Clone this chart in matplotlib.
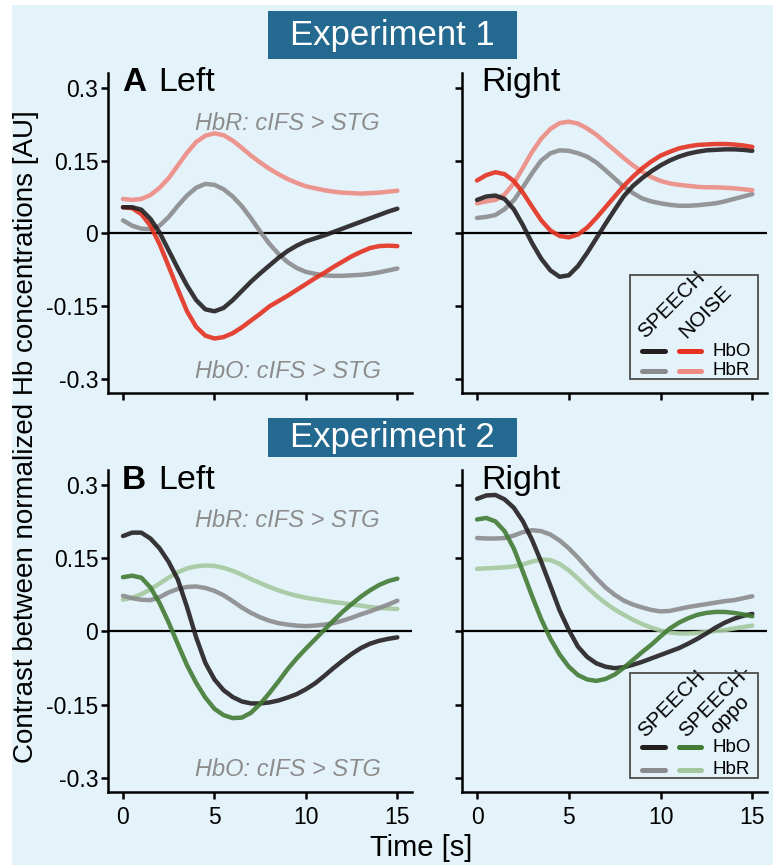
import matplotlib.pyplot as plt
from matplotlib.patches import Rectangle
from matplotlib.lines import Line2D

plt.rcParams['font.family'] = ['Liberation Sans', 'DejaVu Sans']
plt.rcParams['axes.linewidth'] = 1.8

W, H = 773, 865
BG = '#e4f2fa'
BOX = '#24698f'

# time axis [s], sampled every 0.5 s
t = [0, 0.5, 1, 1.5, 2, 2.5, 3, 3.5, 4, 4.5, 5, 5.5, 6, 6.5, 7, 7.5,
     8, 8.5, 9, 9.5, 10, 10.5, 11, 11.5, 12, 12.5, 13, 13.5, 14, 14.5, 15]

# ---- Experiment 1: SPEECH vs NOISE ----
e1_left_speech_hbo = [0.054, 0.054, 0.049, 0.030, 0.002, -0.035, -0.072, -0.107, -0.137, -0.156, -0.160,
                      -0.153, -0.137, -0.118, -0.099, -0.082, -0.066, -0.050, -0.036, -0.025, -0.016,
                      -0.010, -0.004, 0.003, 0.010, 0.017, 0.024, 0.031, 0.038, 0.045, 0.051]
e1_left_noise_hbo = [0.054, 0.052, 0.040, 0.016, -0.022, -0.068, -0.115, -0.160, -0.192, -0.210, -0.216,
                     -0.213, -0.205, -0.193, -0.179, -0.165, -0.150, -0.139, -0.128, -0.116, -0.104,
                     -0.092, -0.081, -0.069, -0.058, -0.047, -0.038, -0.030, -0.026, -0.025, -0.026]
e1_left_speech_hbr = [0.027, 0.016, 0.010, 0.009, 0.016, 0.034, 0.057, 0.078, 0.094, 0.102, 0.100,
                      0.091, 0.076, 0.056, 0.031, 0.004, -0.021, -0.042, -0.059, -0.071, -0.079,
                      -0.083, -0.086, -0.087, -0.087, -0.086, -0.085, -0.083, -0.080, -0.076, -0.072]
e1_left_noise_hbr = [0.071, 0.069, 0.071, 0.079, 0.094, 0.114, 0.140, 0.166, 0.188, 0.201, 0.206,
                     0.202, 0.191, 0.176, 0.160, 0.146, 0.133, 0.122, 0.112, 0.104, 0.097,
                     0.093, 0.089, 0.086, 0.084, 0.083, 0.082, 0.083, 0.084, 0.086, 0.088]

e1_right_speech_hbo = [0.069, 0.076, 0.078, 0.071, 0.050, 0.017, -0.020, -0.052, -0.076, -0.089, -0.086,
                       -0.067, -0.040, -0.010, 0.020, 0.049, 0.077, 0.098, 0.114, 0.128, 0.140,
                       0.150, 0.158, 0.164, 0.168, 0.171, 0.172, 0.173, 0.173, 0.172, 0.170]
e1_right_noise_hbo = [0.109, 0.120, 0.126, 0.122, 0.108, 0.084, 0.055, 0.027, 0.006, -0.005, -0.008,
                      -0.002, 0.012, 0.032, 0.054, 0.076, 0.098, 0.117, 0.134, 0.148, 0.160,
                      0.168, 0.175, 0.179, 0.182, 0.183, 0.184, 0.184, 0.183, 0.181, 0.178]
e1_right_speech_hbr = [0.032, 0.034, 0.038, 0.050, 0.068, 0.095, 0.124, 0.150, 0.165, 0.171, 0.170,
                       0.165, 0.158, 0.146, 0.130, 0.113, 0.096, 0.083, 0.072, 0.066, 0.062,
                       0.059, 0.057, 0.057, 0.058, 0.060, 0.062, 0.066, 0.071, 0.076, 0.081]
e1_right_noise_hbr = [0.062, 0.066, 0.069, 0.080, 0.103, 0.135, 0.168, 0.195, 0.215, 0.227, 0.230,
                      0.226, 0.216, 0.203, 0.187, 0.171, 0.155, 0.140, 0.127, 0.116, 0.108,
                      0.103, 0.100, 0.098, 0.096, 0.095, 0.095, 0.094, 0.093, 0.091, 0.089]

# ---- Experiment 2: SPEECH vs SPEECH-oppo ----
e2_left_speech_hbo = [0.195, 0.202, 0.202, 0.190, 0.170, 0.142, 0.106, 0.050, -0.012, -0.064, -0.098,
                      -0.120, -0.134, -0.143, -0.147, -0.147, -0.145, -0.141, -0.135, -0.128, -0.118,
                      -0.106, -0.091, -0.075, -0.060, -0.046, -0.034, -0.025, -0.019, -0.015, -0.012]
e2_left_oppo_hbo = [0.111, 0.114, 0.110, 0.090, 0.058, 0.018, -0.026, -0.069, -0.105, -0.135, -0.158,
                    -0.171, -0.177, -0.176, -0.166, -0.148, -0.126, -0.102, -0.077, -0.055, -0.035,
                    -0.016, 0.003, 0.022, 0.040, 0.056, 0.071, 0.084, 0.095, 0.103, 0.108]
e2_left_speech_hbr = [0.073, 0.068, 0.065, 0.064, 0.070, 0.080, 0.087, 0.091, 0.092, 0.089, 0.083,
                      0.074, 0.062, 0.049, 0.038, 0.029, 0.022, 0.017, 0.014, 0.012, 0.011,
                      0.012, 0.014, 0.017, 0.022, 0.028, 0.035, 0.041, 0.048, 0.055, 0.063]
e2_left_oppo_hbr = [0.065, 0.069, 0.076, 0.086, 0.098, 0.110, 0.121, 0.129, 0.133, 0.135, 0.134,
                    0.130, 0.124, 0.116, 0.107, 0.099, 0.091, 0.084, 0.078, 0.073, 0.069,
                    0.066, 0.063, 0.060, 0.058, 0.055, 0.053, 0.050, 0.048, 0.047, 0.046]

e2_right_speech_hbo = [0.271, 0.278, 0.279, 0.270, 0.253, 0.225, 0.187, 0.142, 0.093, 0.043, 0.003,
                       -0.031, -0.052, -0.065, -0.072, -0.075, -0.073, -0.068, -0.062, -0.055, -0.048,
                       -0.041, -0.034, -0.025, -0.015, -0.004, 0.008, 0.018, 0.026, 0.032, 0.036]
e2_right_oppo_hbo = [0.229, 0.232, 0.225, 0.205, 0.170, 0.122, 0.072, 0.025, -0.015, -0.047, -0.072,
                     -0.089, -0.098, -0.101, -0.097, -0.088, -0.074, -0.058, -0.042, -0.027, -0.010,
                     0.006, 0.018, 0.027, 0.034, 0.038, 0.040, 0.040, 0.038, 0.035, 0.031]
e2_right_speech_hbr = [0.191, 0.190, 0.190, 0.191, 0.196, 0.203, 0.207, 0.205, 0.198, 0.186, 0.170,
                       0.151, 0.130, 0.109, 0.090, 0.075, 0.063, 0.055, 0.049, 0.044, 0.041,
                       0.042, 0.046, 0.050, 0.053, 0.056, 0.059, 0.062, 0.064, 0.068, 0.072]
e2_right_oppo_hbr = [0.128, 0.129, 0.130, 0.131, 0.133, 0.137, 0.143, 0.147, 0.146, 0.138, 0.125,
                     0.108, 0.090, 0.073, 0.058, 0.045, 0.034, 0.024, 0.015, 0.008, 0.002,
                     -0.002, -0.004, -0.004, -0.003, -0.001, 0.001, 0.003, 0.006, 0.009, 0.012]

yticks = [-0.3, -0.15, 0, 0.15, 0.3]
ytick_labels = ['-0.3', '-0.15', '0', '0.15', '0.3']
xticks = [0, 5, 10, 15]

C_BLACK = '#231f20'
C_GRAY = '#8a8b8d'
C_RED = '#e5311f'
C_SALMON = '#ee8a82'
C_GREEN = '#437b35'
C_LGREEN = '#a4c89d'

fig = plt.figure(figsize=(W / 100, H / 100), dpi=100)
fig.patch.set_facecolor('white')
fig.patches.append(Rectangle((12 / W, 0), 1, 1 - 5 / H, transform=fig.transFigure,
                             facecolor=BG, edgecolor='none', zorder=-10))


def fx(X):
    return X / W


def fy(Y):
    return 1 - Y / H


ax_tl = fig.add_axes([fx(108), fy(393), 304 / W, 320 / H])
ax_tr = fig.add_axes([fx(462), fy(393), 305 / W, 320 / H])
ax_bl = fig.add_axes([fx(108), fy(792), 304 / W, 322 / H])
ax_br = fig.add_axes([fx(462), fy(792), 305 / W, 322 / H])

for ax in [ax_tl, ax_tr, ax_bl, ax_br]:
    ax.set_facecolor('none')
    ax.set_xlim(-0.82, 15.8)
    ax.set_ylim(-0.328, 0.33)
    for s in ['top', 'right']:
        ax.spines[s].set_visible(False)
    ax.set_xticks(xticks)
    ax.set_yticks(yticks)
    ax.tick_params(direction='out', length=5, width=1.8, labelsize=16.5, pad=2)
    ax.tick_params(axis='x', pad=5)
    ax.axhline(0, color='black', lw=1.6, zorder=1)

ax_tl.set_yticklabels(ytick_labels)
ax_bl.set_yticklabels(ytick_labels)
ax_tr.set_yticklabels([])
ax_br.set_yticklabels([])
ax_tl.set_xticklabels([])
ax_tr.set_xticklabels([])

lw = 3.2
al = 0.9
kw = dict(lw=lw, alpha=al, solid_joinstyle='round', solid_capstyle='round')
ax_tl.plot(t, e1_left_speech_hbr, color=C_GRAY, **kw)
ax_tl.plot(t, e1_left_noise_hbr, color=C_SALMON, **kw)
ax_tl.plot(t, e1_left_noise_hbo, color=C_RED, **kw)
ax_tl.plot(t, e1_left_speech_hbo, color=C_BLACK, **kw)

ax_tr.plot(t, e1_right_speech_hbr, color=C_GRAY, **kw)
ax_tr.plot(t, e1_right_noise_hbr, color=C_SALMON, **kw)
ax_tr.plot(t, e1_right_speech_hbo, color=C_BLACK, **kw)
ax_tr.plot(t, e1_right_noise_hbo, color=C_RED, **kw)

ax_bl.plot(t, e2_left_oppo_hbr, color=C_LGREEN, **kw)
ax_bl.plot(t, e2_left_speech_hbr, color=C_GRAY, **kw)
ax_bl.plot(t, e2_left_speech_hbo, color=C_BLACK, **kw)
ax_bl.plot(t, e2_left_oppo_hbo, color=C_GREEN, **kw)

ax_br.plot(t, e2_right_speech_hbr, color=C_GRAY, **kw)
ax_br.plot(t, e2_right_oppo_hbr, color=C_LGREEN, **kw)
ax_br.plot(t, e2_right_speech_hbo, color=C_BLACK, **kw)
ax_br.plot(t, e2_right_oppo_hbo, color=C_GREEN, **kw)

# panel titles and contrast notes
for ax, letter, base in [(ax_tl, 'A', 91), (ax_bl, 'B', 489)]:
    fig.text(fx(122), fy(base), letter, fontsize=24, fontweight='bold', va='baseline')
    fig.text(fx(158), fy(base), 'Left', fontsize=24.5, va='baseline')
    ax.text(9.0, 0.227, 'HbR: cIFS > STG', fontsize=17, style='italic', color='#8c8c8c', ha='center', va='center')
    ax.text(9.0, -0.283, 'HbO: cIFS > STG', fontsize=17, style='italic', color='#8c8c8c', ha='center', va='center')
fig.text(fx(481), fy(91), 'Right', fontsize=24.5, va='baseline')
fig.text(fx(481), fy(489), 'Right', fontsize=24.5, va='baseline')

# experiment banners
for y0, y1, label in [(11, 59, 'Experiment 1'), (418, 457, 'Experiment 2')]:
    fig.patches.append(Rectangle((fx(268), fy(y1)), 249 / W, (y1 - y0) / H, transform=fig.transFigure,
                                 facecolor=BOX, edgecolor='none'))
    fig.text(fx(392), fy((y0 + y1) / 2), label, color='white', fontsize=25, ha='center', va='center')


# legends (figure pixel coordinates)
def legend_box(top, bot, row_hbo, row_hbr, colors):
    fig.patches.append(Rectangle((fx(630), fy(bot)), 128 / W, (bot - top) / H, transform=fig.transFigure,
                                 facecolor='none', edgecolor='#4d4d4d', lw=1.3, zorder=5))
    for name, yy, cpair in [('HbO', row_hbo, colors[0]), ('HbR', row_hbr, colors[1])]:
        for (xa, xb), c in zip([(642, 665), (679, 701)], cpair):
            fig.add_artist(Line2D([fx(xa), fx(xb)], [fy(yy), fy(yy)], color=c, lw=3.6,
                                  solid_capstyle='round', zorder=6))
        fig.text(fx(712), fy(yy), name, fontsize=13.5, va='center', zorder=6)


rot = dict(fontsize=15, rotation=45, rotation_mode='anchor', ha='left', va='baseline')
legend_box(275, 379, 351, 371, [(C_BLACK, C_RED), (C_GRAY, C_SALMON)])
fig.text(fx(645), fy(339), 'SPEECH', **rot)
fig.text(fx(686), fy(339), 'NOISE', **rot)

legend_box(673, 778, 747, 770, [(C_BLACK, C_GREEN), (C_GRAY, C_LGREEN)])
fig.text(fx(645), fy(738), 'SPEECH', **rot)
fig.text(fx(686), fy(738), 'SPEECH-', **rot)
fig.text(fx(717), fy(735), 'oppo', **rot)

fig.text(fx(26), fy(437), 'Contrast between normalized Hb concentrations [AU]', rotation=90,
         fontsize=20, ha='center', va='center')
fig.text(fx(421), fy(848), 'Time [s]', fontsize=21, ha='center', va='center')

fig.savefig('out.png', dpi=100, facecolor=fig.get_facecolor())
